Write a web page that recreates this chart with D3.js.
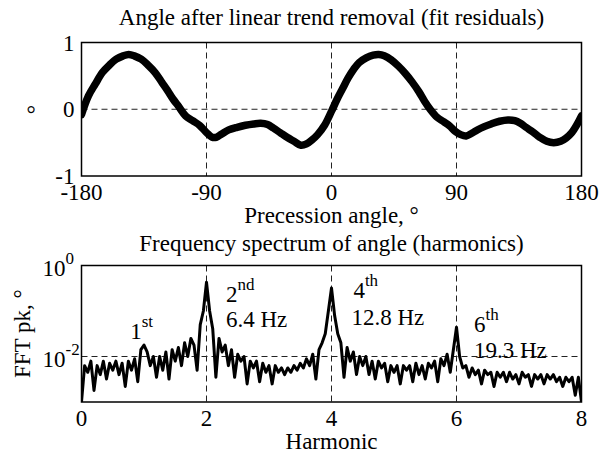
<!DOCTYPE html>
<html><head><meta charset="utf-8">
<script src="https://cdn.jsdelivr.net/npm/d3@7"></script>
<style>
html,body{margin:0;padding:0;background:#fff;}
svg{display:block;font-family:"Liberation Serif","Times New Roman",serif;}
</style></head>
<body>
<svg id="c" width="613" height="458"></svg>
<script>
// ---- Top panel data: residual angle vs precession angle ----
const precessionAngles = [-180,-175,-170,-165,-160,-155,-150,-146,-142,-137,-132,-127,-122,-118,-114,-110,-105,-100,-95,-90,-86,-83,-79,-74,-68,-62,-56,-51,-46,-42,-37,-32,-27,-22,-18,-14,-10,-5,0,4,8,12,16,20,25,30,34,38,43,48,53,58,63,67,71,76,81,85,89,93,97,101,105,110,115,121,127,132,136,140,145,150,155,160,165,169,173,177,180];
const residuals = [-0.08,0.20,0.38,0.55,0.66,0.75,0.80,0.82,0.80,0.75,0.66,0.55,0.40,0.28,0.15,0.04,-0.10,-0.17,-0.24,-0.35,-0.42,-0.42,-0.37,-0.31,-0.27,-0.24,-0.22,-0.21,-0.23,-0.28,-0.35,-0.42,-0.48,-0.54,-0.52,-0.46,-0.38,-0.24,-0.03,0.15,0.31,0.47,0.60,0.70,0.77,0.81,0.82,0.80,0.74,0.65,0.54,0.41,0.26,0.12,0.0,-0.12,-0.19,-0.25,-0.33,-0.38,-0.40,-0.36,-0.31,-0.26,-0.22,-0.18,-0.16,-0.17,-0.21,-0.27,-0.34,-0.42,-0.48,-0.50,-0.48,-0.43,-0.35,-0.22,-0.10];
const topXTicks = [-180,-90,0,90,180];
const topYTicks = [-1,0,1];

// ---- Bottom panel data: FFT peak amplitude vs harmonic (step 0.05) ----
const harmonicStep = 0.05;
const fftAmplitude = [
0.0010,0.0063,0.0045,0.0079,0.0018,0.0063,0.0040,0.0079,0.0032,0.0071,
0.0050,0.0079,0.0040,0.0071,0.0022,0.0079,0.0050,0.0089,0.0028,0.0141,
0.0178,0.0126,0.0063,0.0100,0.0035,0.0100,0.0050,0.0126,0.0032,0.0141,
0.0079,0.0158,0.0063,0.0200,0.0100,0.0250,0.0178,0.0050,0.0500,0.1000,
0.4300,0.1000,0.0400,0.0035,0.0250,0.0126,0.0178,0.0063,0.0141,0.0035,
0.0112,0.0079,0.0100,0.0025,0.0079,0.0056,0.0079,0.0028,0.0071,0.0045,
0.0063,0.0025,0.0063,0.0045,0.0056,0.0040,0.0056,0.0045,0.0063,0.0050,
0.0071,0.0056,0.0089,0.0063,0.0112,0.0032,0.0141,0.0200,0.0316,0.1000,
0.3200,0.0794,0.0316,0.0200,0.0035,0.0158,0.0079,0.0126,0.0040,0.0100,
0.0063,0.0100,0.0040,0.0079,0.0032,0.0079,0.0056,0.0071,0.0028,0.0063,
0.0045,0.0063,0.0025,0.0063,0.0050,0.0063,0.0028,0.0071,0.0040,0.0063,
0.0032,0.0071,0.0056,0.0079,0.0028,0.0089,0.0063,0.0112,0.0045,0.0141,
0.0440,0.0100,0.0056,0.0063,0.0035,0.0056,0.0040,0.0050,0.0025,0.0050,
0.0040,0.0045,0.0022,0.0045,0.0035,0.0045,0.0028,0.0045,0.0032,0.0040,
0.0025,0.0045,0.0035,0.0040,0.0022,0.0040,0.0032,0.0040,0.0025,0.0040,
0.0032,0.0040,0.0028,0.0035,0.0022,0.0035,0.0028,0.0035,0.0014,0.0035,
0.0010];
const bottomXTicks = [0,2,4,6,8];
const bottomYTickExps = [0,-2];
const annotations = [
  {h:0.78, v:0.0239, base:"1", sup:"st"},
  {h:2.31, v:0.16, base:"2", sup:"nd"},
  {h:2.31, v:0.0439, base:"6.4 Hz", sup:""},
  {h:4.35, v:0.19, base:"4", sup:"th"},
  {h:4.32, v:0.0492, base:"12.8 Hz", sup:""},
  {h:6.28, v:0.0351, base:"6", sup:"th"},
  {h:6.28, v:0.0094, base:"19.3 Hz", sup:""}
];

const svg = d3.select("#c");
const FS = 23, SUP = 17;
const L = 81.5, R = 581.5;

// ---------- TOP PANEL ----------
const t = {top:42.5, bottom:176};
const xA = d3.scaleLinear().domain([-180,180]).range([L,R]);
const yA = d3.scaleLinear().domain([-1,1]).range([t.bottom,t.top]);

svg.append("clipPath").attr("id","clipTop").append("rect")
  .attr("x",L).attr("y",t.top).attr("width",R-L).attr("height",t.bottom-t.top);

const gTop = svg.append("g");
gTop.selectAll(".gx").data([-90,0,90]).enter().append("line")
  .attr("x1",d=>xA(d)).attr("x2",d=>xA(d)).attr("y1",t.top).attr("y2",t.bottom)
  .attr("stroke","#222").attr("stroke-width",1).attr("stroke-dasharray","6,4");
gTop.append("line").attr("x1",L).attr("x2",R).attr("y1",yA(0)).attr("y2",yA(0))
  .attr("stroke","#222").attr("stroke-width",1).attr("stroke-dasharray","6,4");

const topData = precessionAngles.map((a,i)=>[a,residuals[i]]);
gTop.append("path").datum(topData)
  .attr("clip-path","url(#clipTop)")
  .attr("d", d3.line().x(d=>xA(d[0])).y(d=>yA(d[1])).curve(d3.curveCatmullRom))
  .attr("fill","none").attr("stroke","#000").attr("stroke-width",7.5)
  .attr("stroke-linejoin","round").attr("stroke-linecap","round");

gTop.append("rect").attr("x",L).attr("y",t.top).attr("width",R-L).attr("height",t.bottom-t.top)
  .attr("fill","none").attr("stroke","#000").attr("stroke-width",1.5);

gTop.selectAll(".yt").data(topYTicks).enter().append("text")
  .attr("x",L-7).attr("y",d=>yA(d)).attr("dy","0.35em").attr("text-anchor","end")
  .attr("font-size",FS).text(d=>d);
gTop.selectAll(".xt").data(topXTicks).enter().append("text")
  .attr("x",d=>xA(d)).attr("y",t.bottom+24).attr("text-anchor","middle")
  .attr("font-size",FS).text(d=>d);
svg.append("text").attr("x",(L+R)/2).attr("y",25).attr("text-anchor","middle")
  .attr("font-size",FS).text("Angle after linear trend removal (fit residuals)");
svg.append("text").attr("x",(L+R)/2).attr("y",223).attr("text-anchor","middle")
  .attr("font-size",FS).text("Precession angle, \u00B0");
svg.append("text").attr("x",31).attr("y",yA(0)+13).attr("text-anchor","middle")
  .attr("font-size",FS).text("\u00B0");

// ---------- BOTTOM PANEL ----------
const b = {top:265.5, bottom:402};
const xB = d3.scaleLinear().domain([0,8]).range([L,R]);
const yB = d3.scaleLog().domain([0.001,1]).range([b.bottom,b.top]);

svg.append("clipPath").attr("id","clipBot").append("rect")
  .attr("x",L).attr("y",b.top).attr("width",R-L).attr("height",b.bottom-b.top);

const gB = svg.append("g");
gB.selectAll(".gx").data([2,4,6]).enter().append("line")
  .attr("x1",d=>xB(d)).attr("x2",d=>xB(d)).attr("y1",b.top).attr("y2",b.bottom)
  .attr("stroke","#222").attr("stroke-width",1).attr("stroke-dasharray","6,4");
gB.append("line").attr("x1",L).attr("x2",R).attr("y1",yB(0.01)).attr("y2",yB(0.01))
  .attr("stroke","#222").attr("stroke-width",1).attr("stroke-dasharray","6,4");

annotations.forEach(a=>{
  const tx = gB.append("text").attr("x",xB(a.h)).attr("y",yB(a.v)).attr("font-size",FS);
  tx.append("tspan").text(a.base);
  if(a.sup) tx.append("tspan").attr("dy",-12).attr("font-size",SUP).text(a.sup);
});

const botData = fftAmplitude.map((v,i)=>[i*harmonicStep, v]);
gB.append("path").datum(botData)
  .attr("clip-path","url(#clipBot)")
  .attr("d", d3.line().x(d=>xB(d[0])).y(d=>yB(d[1])))
  .attr("fill","none").attr("stroke","#000").attr("stroke-width",3)
  .attr("stroke-linejoin","round");

gB.append("rect").attr("x",L).attr("y",b.top).attr("width",R-L).attr("height",b.bottom-b.top)
  .attr("fill","none").attr("stroke","#000").attr("stroke-width",1.5);

gB.selectAll(".xt").data(bottomXTicks).enter().append("text")
  .attr("x",d=>xB(d)).attr("y",b.bottom+24).attr("text-anchor","middle")
  .attr("font-size",FS).text(d=>d);
bottomYTickExps.forEach(e=>{
  const tx = gB.append("text").attr("x",42.5).attr("y",yB(Math.pow(10,e))+10.5)
    .attr("text-anchor","start").attr("font-size",FS);
  tx.append("tspan").text("10");
  tx.append("tspan").attr("dy",-12).attr("font-size",SUP).text(e);
});
svg.append("text").attr("x",(L+R)/2).attr("y",251).attr("text-anchor","middle")
  .attr("font-size",FS).text("Frequency spectrum of angle (harmonics)");
svg.append("text").attr("x",(L+R)/2).attr("y",449).attr("text-anchor","middle")
  .attr("font-size",FS).text("Harmonic");
svg.append("text").attr("transform",`translate(30,${(b.top+b.bottom)/2}) rotate(-90)`)
  .attr("text-anchor","middle").attr("font-size",FS).text("FFT pk, \u00B0");
</script>
</body></html>
